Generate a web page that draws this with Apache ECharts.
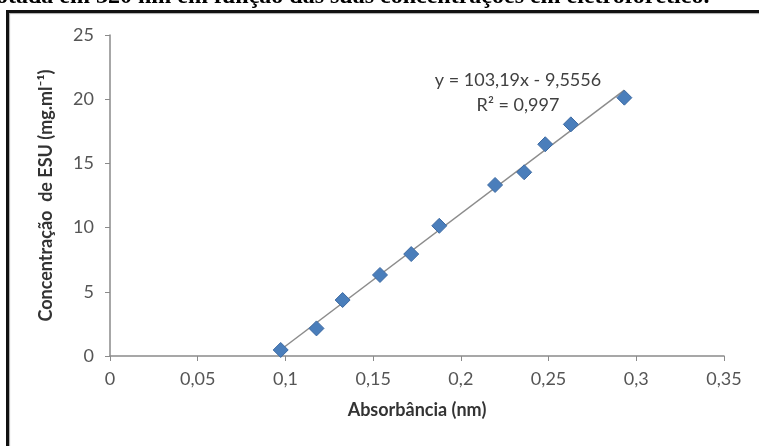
<!DOCTYPE html>
<html>
<head>
<meta charset="utf-8">
<script src="https://cdn.jsdelivr.net/npm/echarts@6/dist/echarts.min.js"></script>
<style>
html,body{margin:0;padding:0;background:#fff;overflow:hidden;}
#frame{position:absolute;left:6px;top:10px;width:800px;height:433px;border-left:3px solid #111;border-top:3px solid #111;box-shadow:inset 1px 1px 1px #aaa;}
#chart{position:absolute;left:0;top:0;width:759px;height:448px;}
</style>
</head>
<body>
<div id="frame"></div>
<div id="chart"></div>
<script>
const caption = "otada em 320 nm em função das suas concentrações em eletroforético.";
const xTitle = "Absorbância (nm)";
const yTitle = "Concentração  de ESU (mg.ml⁻¹)";
const absorbance = [0.0973, 0.1177, 0.1326, 0.1539, 0.1717, 0.1877, 0.2195, 0.2361, 0.2481, 0.2627, 0.2932];
const concentration = [0.47, 2.15, 4.36, 6.31, 7.94, 10.14, 13.32, 14.31, 16.49, 18.04, 20.12];
const slope = 103.19;
const intercept = -9.5556;
const equationText = "y = 103,19x - 9,5556";
const r2Text = "R² = 0,997";

const pts = absorbance.map((x, i) => [x, concentration[i]]);
const xMin = Math.min(...absorbance), xMax = Math.max(...absorbance);
const trend = [[xMin, slope * xMin + intercept], [xMax, slope * xMax + intercept]];

const fmt = v => String(Math.round(v * 100) / 100).replace('.', ',');
const font = 'Lato';
const chart = echarts.init(document.getElementById('chart'), null, {renderer: 'canvas'});
chart.setOption({
  animation: false,
  backgroundColor: 'transparent',
  grid: {left: 110, right: 35, top: 35, bottom: 92},
  xAxis: {
    type: 'value', min: 0, max: 0.35, interval: 0.05,
    name: xTitle, nameLocation: 'middle', nameGap: 45,
    nameTextStyle: {fontFamily: font, fontWeight: 'bold', fontSize: 18, color: '#333'},
    axisLine: {show: true, lineStyle: {color: '#8a8a8a', width: 1.5}},
    axisTick: {show: true, inside: false, length: 5, lineStyle: {color: '#8a8a8a'}},
    axisLabel: {fontFamily: font, fontSize: 18, color: '#555', margin: 14, formatter: fmt},
    splitLine: {show: false}
  },
  yAxis: {
    type: 'value', min: 0, max: 25, interval: 5,
    name: yTitle, nameLocation: 'middle', nameGap: 55, nameRotate: 90,
    nameTextStyle: {fontFamily: font, fontWeight: 'bold', fontSize: 18, color: '#333'},
    axisLine: {show: true, lineStyle: {color: '#8a8a8a', width: 1.5}},
    axisTick: {show: true, inside: false, length: 5, lineStyle: {color: '#8a8a8a'}},
    axisLabel: {fontFamily: font, fontSize: 18, color: '#555', margin: 16},
    splitLine: {show: false}
  },
  series: [
    {
      type: 'line', data: trend, showSymbol: false, symbol: 'none', z: 1,
      lineStyle: {color: '#8c8c8c', width: 1.5}, silent: true
    },
    {
      type: 'scatter', data: pts, symbol: 'diamond', symbolSize: 15, z: 2,
      itemStyle: {color: '#4a7ebb', borderColor: '#3d6aa2', borderWidth: 1, opacity: 1}
    }
  ],
  graphic: [
    {type: 'text', left: -4, top: -15, z: 10,
     style: {text: caption, font: 'bold 24px "Liberation Serif"', fill: '#000'}},
    {type: 'text', x: 518, y: 80, z: 10,
     style: {text: equationText, font: '18px ' + font, fill: '#404040', align: 'center', verticalAlign: 'middle'}},
    {type: 'text', x: 518, y: 105, z: 10,
     style: {text: r2Text, font: '18px ' + font, fill: '#404040', align: 'center', verticalAlign: 'middle'}}
  ]
});
</script>
</body>
</html>
